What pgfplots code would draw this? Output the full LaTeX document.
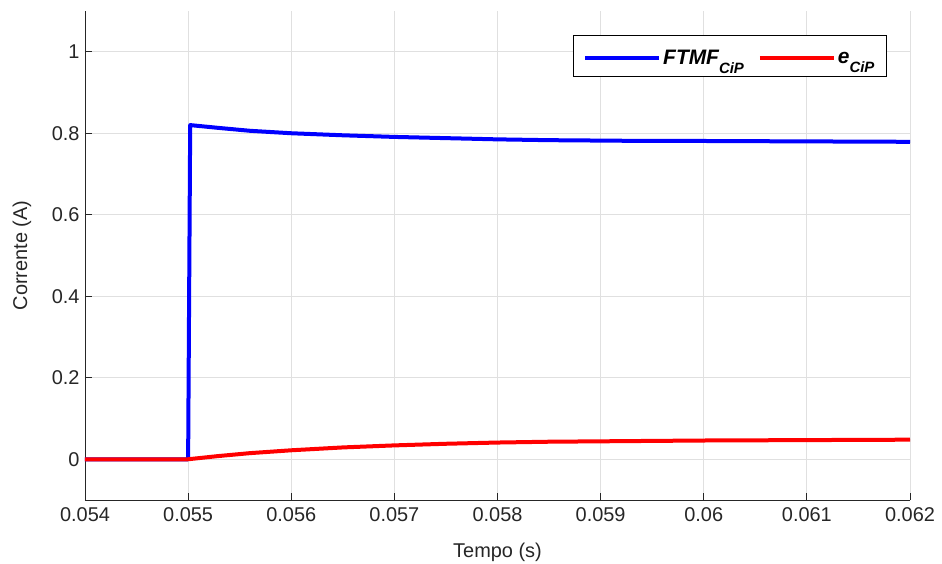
\documentclass[border=0pt]{standalone}
\usepackage{fontspec}
\setmainfont{Liberation Sans}
\usepackage{pgfplots}
\pgfplotsset{compat=1.18}
\definecolor{gridc}{gray}{0.88}
\definecolor{axc}{gray}{0.15}
\newcommand{\sub}[1]{\raisebox{-9bp}{\fontsize{15}{15}\selectfont #1}}
\begin{document}
\begin{tikzpicture}
\useasboundingbox (-85bp,-64bp) rectangle (857bp,500bp);
\begin{axis}[
  at={(0,0)}, anchor=south west,
  scale only axis,
  width=825bp, height=489bp,
  xmin=0.054, xmax=0.062, ymin=-0.1, ymax=1.1,
  scaled x ticks=false, scaled y ticks=false,
  axis lines*=left,
  axis line style={axc, line width=0.9pt},
  xtick={0.054,0.055,0.056,0.057,0.058,0.059,0.06,0.061,0.062},
  xticklabels={0.054,0.055,0.056,0.057,0.058,0.059,0.06,0.061,0.062},
  ytick={0,0.2,0.4,0.6,0.8,1},
  yticklabels={0,0.2,0.4,0.6,0.8,1},
  tick align=inside,
  major tick length=7bp,
  tick style={axc, line width=0.9pt},
  grid=major,
  major grid style={gridc, line width=0.9pt},
  ticklabel style={font=\fontsize{20}{23}\selectfont, text=axc},
  xticklabel style={yshift=-4bp},
  yticklabel style={xshift=-2bp},
  xlabel={Tempo (s)}, ylabel={Corrente (A)},
  every axis x label/.style={at={([yshift=-52bp]axis description cs:0.5,0)}, anchor=center, font=\fontsize{20}{23}\selectfont, text=axc},
  every axis y label/.style={at={([xshift=-63bp]axis description cs:0,0.5)}, anchor=center, rotate=90, font=\fontsize{20}{23}\selectfont, text=axc},
  legend style={at={(0.972,0.951)}, anchor=north east, draw=black, line width=0.9pt,
    font=\fontsize{21}{24}\selectfont\bfseries\itshape, legend columns=2,
    /tikz/every even column/.append style={column sep=12bp},
    inner xsep=10bp, inner ysep=8bp},
  legend image code/.code={\draw[#1, line width=4bp] (0cm,0bp) -- (74bp,0bp); \path (0cm,13bp);},
]
\addplot[blue, line width=4bp, line join=round] coordinates {
(0.054,0) (0.05500,0) (0.05502,0.82) (0.0553,0.813) (0.0556,0.806) (0.056,0.800)
(0.0565,0.795) (0.057,0.791) (0.0575,0.788) (0.058,0.785) (0.0585,0.783) (0.059,0.782)
(0.0595,0.781) (0.060,0.781) (0.061,0.780) (0.062,0.779)};
\addlegendentry{FTMF\sub{CiP}}
\addplot[red, line width=4bp, line join=round] coordinates {
(0.054,0) (0.05500,0) (0.0553,0.008) (0.0556,0.015) (0.056,0.022) (0.0565,0.029)
(0.057,0.034) (0.0575,0.038) (0.058,0.041) (0.0585,0.043) (0.059,0.044) (0.0595,0.045)
(0.060,0.046) (0.061,0.047) (0.062,0.048)};
\addlegendentry{e\sub{CiP}}
\end{axis}
\end{tikzpicture}
\end{document}
